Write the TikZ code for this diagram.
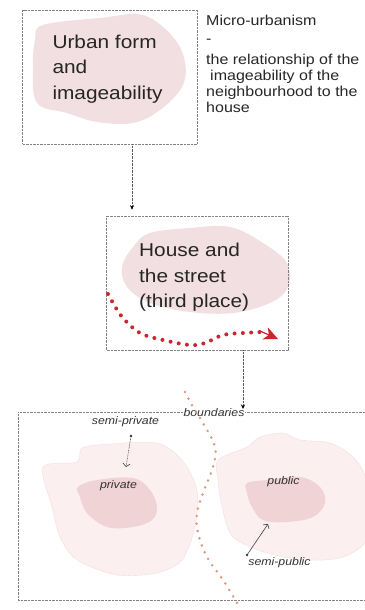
\documentclass[tikz,border=0pt]{standalone}
\usepackage{fontspec}
\setmainfont{Liberation Sans}
\usepackage{graphicx}
\usetikzlibrary{arrows.meta,calc}
\definecolor{blobA}{RGB}{242,223,225}
\definecolor{blobOut}{RGB}{251,239,239}
\definecolor{blobOutLine}{RGB}{238,215,215}
\definecolor{blobIn}{RGB}{239,211,213}
\definecolor{dotred}{RGB}{200,40,45}
\definecolor{dotorange}{RGB}{224,150,125}
\definecolor{boxgray}{RGB}{130,130,130}
\newcommand\hs[1]{\scalebox{1.12}[1]{#1}}
\tikzset{
  frame/.style={draw=boxgray, line width=0.6pt, dash pattern=on 0.7pt off 0.7pt, rectangle, inner sep=0pt},
  conn/.style={draw=boxgray!70!black, line width=0.6pt, dash pattern=on 0.7pt off 0.7pt, -{Stealth[length=4.5pt,width=4pt,color=black]}},
  big/.style={anchor=base west, inner sep=0pt, font=\fontsize{18.6}{25}\selectfont, text=black!85},
  side/.style={anchor=base west, inner sep=0pt, font=\fontsize{14.3}{16}\selectfont, text=black!85},
  lab/.style={inner sep=0.6pt, font=\fontsize{11}{13}\selectfont\itshape, text=black!80},
  bigblob/.style={fill=blobA},
  outblob/.style={fill=blobOut, draw=blobOutLine, line width=0.5pt, dash pattern=on 0.6pt off 0.6pt},
  inblob/.style={fill=blobIn},
  reddots/.style={draw=dotred, line width=4pt, line cap=round, dash pattern=on 0pt off 8.3pt},
  orangedots/.style={draw=dotorange, line width=2.8pt, line cap=round, dash pattern=on 0pt off 7.5pt},
  pointer/.style={draw=black!75, line width=0.6pt},
}
\begin{document}
\begin{tikzpicture}[x=1pt,y=-1pt]
\useasboundingbox (0,0) rectangle (364,610);

% blobs
\fill[bigblob] plot[smooth cycle, tension=0.6] coordinates {(43,25) (100,18) (143,15) (173,37) (185,62) (182,87) (160,110) (133,123) (97,122) (67,113) (37,103) (33,67) (35,40)};
\fill[bigblob] plot[smooth cycle, tension=0.6] coordinates {(133,247) (150,233) (190,228) (230,227) (263,243) (287,263) (288,287) (270,303) (233,313) (190,312) (150,303) (127,287) (122,267)};

\path[outblob] plot[smooth cycle, tension=0.5] coordinates {(43,467) (77,462) (82,448) (110,444) (157,443) (182,460) (197,490) (195,527) (182,560) (157,573) (117,575) (77,560) (60,537) (52,507)};
\fill[inblob] plot[smooth cycle, tension=0.6] coordinates {(78,487) (97,480) (133,478) (150,490) (157,507) (152,520) (133,527) (107,527) (87,513) (80,497)};

\path[outblob] plot[smooth cycle, tension=0.5] coordinates {(218,460) (247,447) (260,437) (283,433) (300,440) (330,443) (353,457) (366,480) (368,537) (343,557) (307,560) (267,553) (233,537) (222,507) (218,480)};
\fill[inblob] plot[smooth cycle, tension=0.6] coordinates {(247,483) (267,480) (300,477) (320,487) (325,503) (313,517) (287,522) (263,520) (252,507) (247,493)};

% frames
\node[frame, minimum width=174.6pt, minimum height=134pt] (box1) at (110,77) {};
\node[frame, minimum width=182pt, minimum height=134pt] (box2) at (197.5,283) {};
\node[frame, minimum width=372pt, minimum height=188pt] (box3) at (204,506) {};

% texts
\node[big] (u1) at (52.3,48.3) {\hs{Urban form}};
\node[big] (u2) at (52.3,73.6) {\hs{and}};
\node[big] (u3) at (52.3,99) {\hs{imageability}};

\node[big] (h1) at (139,256.7) {\hs{House and}};
\node[big] (h2) at (139,282) {\hs{the street}};
\node[big] (h3) at (139,307.3) {\hs{(third place)}};

\node[side] (m1) at (206,26) {\hs{Micro-urbanism}};
\node[side] (m2) at (206,44) {\hs{-}};
\node[side] (m3) at (206,64) {\hs{the relationship of the}};
\node[side] (m4) at (210,80) {\hs{imageability of the}};
\node[side] (m5) at (206,96) {\hs{neighbourhood to the}};
\node[side] (m6) at (206,112) {\hs{house}};

% red dotted path
\path[reddots] plot[smooth, tension=0.6] coordinates {(108,294) (113,303) (123,318) (140,333) (163,340) (190,345) (205,343) (223,335) (243,333) (262,332)};
\coordinate (ra) at (260,331);
\coordinate (rb) at (278,339);
\draw[dotred, line width=1.2pt, -{Stealth[length=14pt,width=13pt,inset=4pt,color=dotred]}] (ra) -- (rb);

% labels
\node[lab, fill=white] (bnd) at (214,413) {\hs{boundaries}};
\node[lab] (spv) at (125.5,422) {\hs{semi-private}};
\node[lab] (pv) at (118.5,486) {\hs{private}};
\node[lab] (pb) at (283.5,482) {\hs{public}};
\node[lab] (spb) at (279.5,563) {\hs{semi-public}};

% boundary dots
\path[orangedots] plot[smooth, tension=0.6] coordinates {(185,392) (193,407) (203,423) (215,447) (213,467) (203,493) (197,513) (198,533) (207,557) (223,580) (240,608)};

% connectors
\coordinate (a1) at (132,0);
\draw[conn] (box1.south -| a1) -- ($(box2.north -| a1)+(0,-6)$);
\coordinate (t2) at (243,409);
\draw[conn] (box2.south -| t2) -- (t2);

% pointers
\coordinate (p1) at (131,436);
\coordinate (p2) at (126,467);
\fill[black!80] (p1) circle (1.3pt);
\draw[pointer, dash pattern=on 0.8pt off 0.8pt, -{Straight Barb[length=3pt,width=7pt]}] (p1) -- (p2);
\coordinate (q1) at (247,555);
\coordinate (q2) at (268,524);
\fill[black!80] (q1) circle (1.3pt);
\draw[pointer, -{Straight Barb[length=3pt,width=7pt]}] (q1) -- (q2);
\end{tikzpicture}
\end{document}
